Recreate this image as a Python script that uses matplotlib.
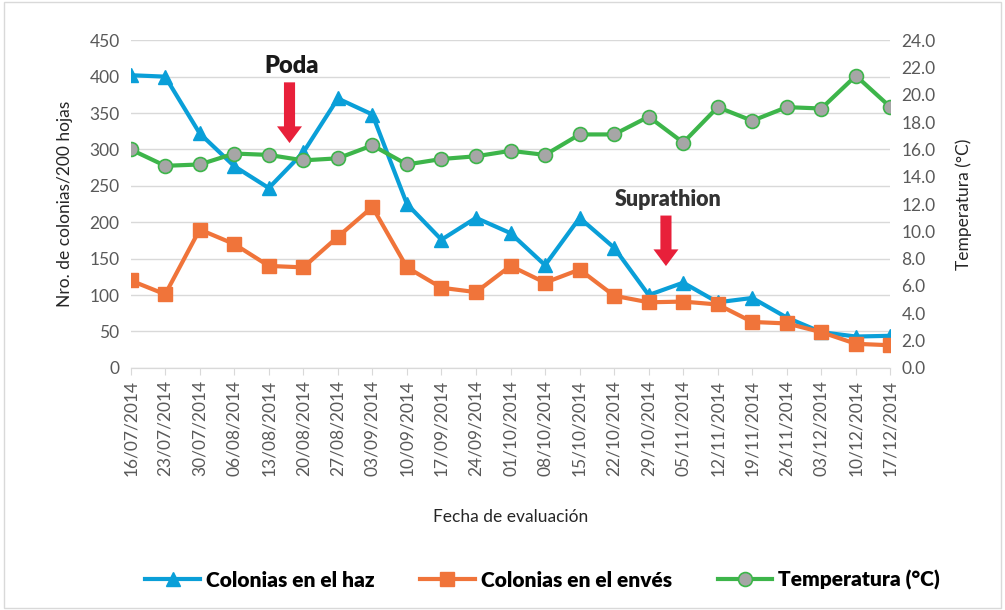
import matplotlib
matplotlib.use("Agg")
import matplotlib.pyplot as plt
from matplotlib.patches import Rectangle

plt.rcParams["font.family"] = ["Lato", "DejaVu Sans"]

fechas = ["16/07/2014", "23/07/2014", "30/07/2014", "06/08/2014", "13/08/2014",
          "20/08/2014", "27/08/2014", "03/09/2014", "10/09/2014", "17/09/2014",
          "24/09/2014", "01/10/2014", "08/10/2014", "15/10/2014", "22/10/2014",
          "29/10/2014", "05/11/2014", "12/11/2014", "19/11/2014", "26/11/2014",
          "03/12/2014", "10/12/2014", "17/12/2014"]
haz = [402, 400, 322, 277, 247, 296, 370, 348, 225, 176, 206, 185, 141,
       206, 165, 100, 117, 90, 96, 69, 49, 43, 44]
enves = [120, 101, 190, 170, 140, 138, 180, 221, 138, 110, 104, 140, 117,
         135, 99, 90, 91, 87, 63, 61, 49, 33, 31]
temperatura = [16.0, 14.8, 14.9, 15.7, 15.6, 15.2, 15.35, 16.3, 14.9, 15.3,
               15.5, 15.9, 15.6, 17.1, 17.1, 18.4, 16.5, 19.1, 18.1, 19.1,
               19.0, 21.4, 19.1]

azul = "#0A9FD8"
naranja = "#F0743A"
verde = "#3DB54A"
gris = "#595959"
rojo = "#E8203A"

fig = plt.figure(figsize=(10.05, 6.1), dpi=100)
fig.patches.append(Rectangle((0.004, 0.004), 0.992, 0.992, transform=fig.transFigure,
                             fill=False, edgecolor="#D9D9D9", linewidth=1))
ax = fig.add_axes([0.130, 0.397, 0.756, 0.537])
ax2 = ax.twinx()

x = list(range(len(fechas)))
ax.plot(x, haz, color=azul, lw=3, marker="^", ms=10, zorder=3, label="Colonias en el haz")
ax.plot(x, enves, color=naranja, lw=3, marker="s", ms=10, zorder=3, label="Colonias en el envés")
ax2.plot(x, temperatura, color=verde, lw=3, marker="o", ms=10, mfc="#A6A6A6",
         mec=verde, mew=1.2, label="Temperatura (°C)")

ax.set_xlim(0, 22)
ax.set_ylim(0, 450)
ax.set_yticks(range(0, 451, 50))
ax2.set_ylim(0, 24)
ax2.set_yticks([i * 2 for i in range(13)])
ax2.set_yticklabels([f"{i * 2:.1f}" for i in range(13)])

ax.set_xticks(x)
ax.set_xticklabels(fechas, rotation=90)
ax.grid(axis="y", color="#D9D9D9", lw=1)
ax.set_axisbelow(True)

for a in (ax, ax2):
    for s in ("top", "left", "right"):
        a.spines[s].set_visible(False)
    a.spines["bottom"].set_color("#D9D9D9")
    a.tick_params(axis="y", length=0, labelsize=12.5, labelcolor=gris, pad=8)
ax.tick_params(axis="x", length=5, color="#D9D9D9", labelsize=12.5, labelcolor=gris)

ax.set_ylabel("Nro. de colonias/200 hojas", fontsize=12.5, color="#262626", labelpad=12)
ax2.set_ylabel("Temperatura (°C)", fontsize=12.5, color="#262626", rotation=90, labelpad=14)
ax.set_xlabel("Fecha de evaluación", fontsize=12.5, color="#262626", labelpad=24)

# anotaciones
flecha = dict(arrowstyle="simple,head_width=1.8,head_length=1.2,tail_width=0.8",
              color=rojo, lw=0)
ax.annotate("", xy=(4.6, 305), xytext=(4.6, 396), arrowprops=flecha)
ax.text(4.65, 415, "Poda", ha="center", va="center", fontsize=17, fontweight="heavy",
        color="#1A1A1A")
ax.annotate("", xy=(15.5, 136), xytext=(15.5, 213), arrowprops=flecha)
ax.text(15.55, 231, "Suprathion", ha="center", va="center", fontsize=15.5, fontweight="heavy",
        color="#333333")

h1, l1 = ax.get_legend_handles_labels()
h2, l2 = ax2.get_legend_handles_labels()
fig.legend(h1 + h2, l1 + l2, loc="center", bbox_to_anchor=(0.54, 0.049), ncol=3,
           frameon=False, handlelength=2.6, handletextpad=0.3, columnspacing=2.2,
           prop=dict(weight="heavy", size=15))

fig.savefig("out.png", dpi=100)
